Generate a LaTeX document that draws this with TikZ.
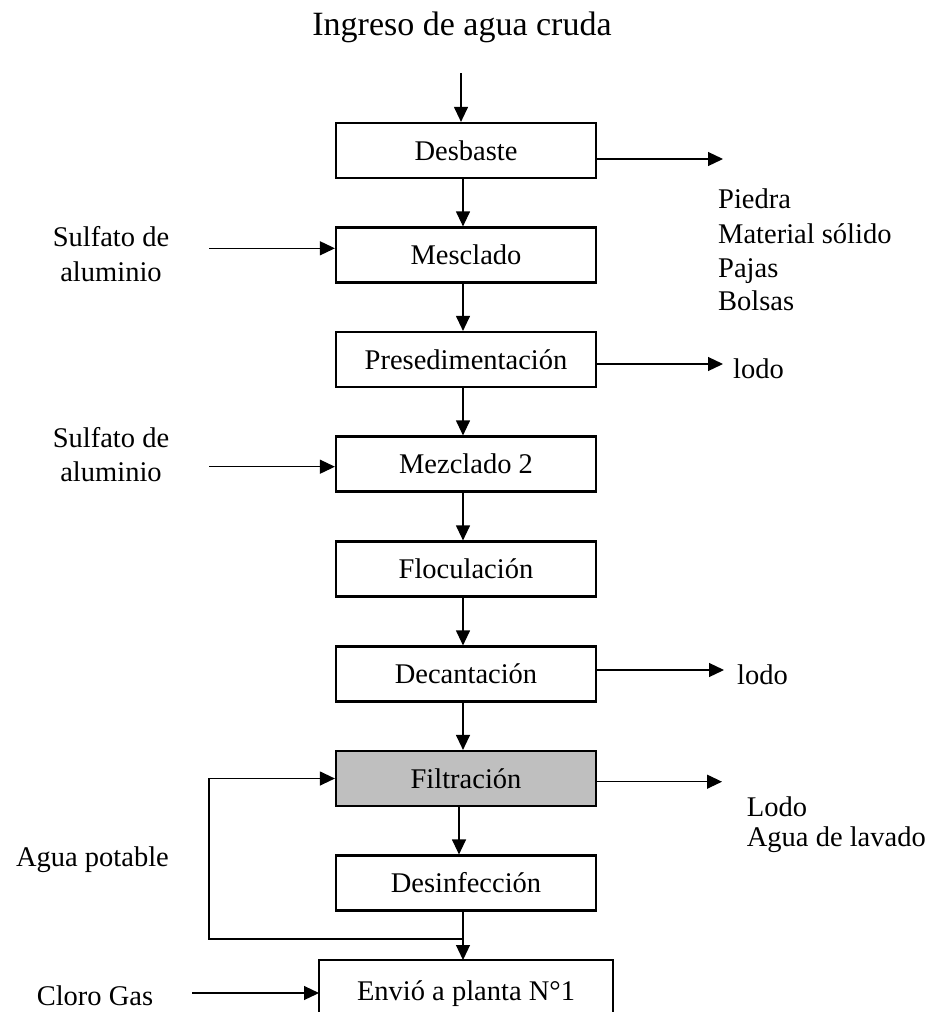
\documentclass[tikz,border=0pt]{standalone}
\usepackage{fontspec}
\setmainfont{Liberation Serif}
\usetikzlibrary{arrows.meta}
\begin{document}
\begin{tikzpicture}[x=1pt,y=-1pt,
  every node/.style={font=\fontsize{28.5}{34}\selectfont},
  procbox/.style={draw,line width=2.2pt,minimum width=260pt,minimum height=55pt,inner sep=0pt},
  arr/.style={line width=1.2pt,-{Triangle[length=15pt,width=14pt]}},
  lbl/.style={inner sep=0pt,anchor=base},
  lblw/.style={inner sep=0pt,anchor=base west}]
\useasboundingbox (0,0) rectangle (937,1012);
\clip (0,0) rectangle (937,1012);
% boxes
\node[procbox] (desb) at (466,150.5) {Desbaste};
\node[procbox] (mes) at (466,255) {Mesclado};
\node[procbox] (pre) at (466,359.5) {Presedimentación};
\node[procbox] (mez) at (466,464) {Mezclado 2};
\node[procbox] (flo) at (466,569) {Floculación};
\node[procbox] (dec) at (466,674) {Decantación};
\node[procbox,fill=black!25] (fil) at (466,778.5) {Filtración};
\node[procbox] (des) at (466,883) {Desinfección};
\draw[line width=2.2pt] (319,1040) |- (613,960) -- (613,1040);
\node[lbl] (env) at (466,1000) {Envió a planta N°1};
\coordinate (envtop) at (463,960);
% labels
\node[lbl,font=\fontsize{34}{40}\selectfont] (ing) at (462,35) {Ingreso de agua cruda};
\node[lbl] (sul1a) at (111,246.7) {Sulfato de};
\node[lbl] (sul1b) at (111,281.7) {aluminio};
\node[lbl] (sul2a) at (111,447) {Sulfato de};
\node[lbl] (sul2b) at (111,481) {aluminio};
\node[lbl] (agua) at (92.5,866.7) {Agua potable};
\node[lbl] (cloro) at (95,1005) {Cloro Gas};
\node[lblw] (pie) at (718,208.3) {Piedra};
\node[lblw] (mat) at (718,243) {Material sólido};
\node[lblw] (paj) at (718,277) {Pajas};
\node[lblw] (bol) at (718,310) {Bolsas};
\node[lblw] (lodo1) at (733,378) {lodo};
\node[lblw] (lodo2) at (737,684) {lodo};
\node[lblw] (lodo3) at (746.7,816.7) {Lodo};
\node[lblw] (lav) at (746.7,846.7) {Agua de lavado};
% free ends
\coordinate (topin) at (461,73);
\coordinate (o1) at (723,159);
\coordinate (o2) at (723,364);
\coordinate (o3) at (724,670);
\coordinate (o4) at (722,781.7);
\coordinate (i1) at (209,248.3);
\coordinate (i2) at (209,466.7);
\coordinate (i3) at (192,993);
\coordinate (fb) at (463,939);
\coordinate (fbc) at (209,939);
% vertical flow
\draw[arr] (topin) -- (topin |- desb.north);
\draw[arr] ([xshift=-3pt]desb.south) -- ([xshift=-3pt]mes.north);
\draw[arr] ([xshift=-3pt]mes.south) -- ([xshift=-3pt]pre.north);
\draw[arr] ([xshift=-3pt]pre.south) -- ([xshift=-3pt]mez.north);
\draw[arr] ([xshift=-3pt]mez.south) -- ([xshift=-3pt]flo.north);
\draw[arr] ([xshift=-3pt]flo.south) -- ([xshift=-3pt]dec.north);
\draw[arr] ([xshift=-3pt]dec.south) -- ([xshift=-3pt]fil.north);
\draw[arr] ([xshift=-7pt]fil.south) -- ([xshift=-7pt]des.north);
\draw[arr] ([xshift=-3pt]des.south) -- (envtop);
% outputs
\draw[arr] (o1 -| desb.east) -- (o1);
\draw[arr] (o2 -| pre.east) -- (o2);
\draw[arr] (o3 -| dec.east) -- (o3);
\draw[arr] (o4 -| fil.east) -- (o4);
% inputs
\draw[arr] (i1) -- (i1 -| mes.west);
\draw[arr] (i2) -- (i2 -| mez.west);
\draw[arr] (i3) -- (319,993);
% feedback
\draw[arr] (fb) -- (fbc) |- (fil.west);
\end{tikzpicture}
\end{document}
